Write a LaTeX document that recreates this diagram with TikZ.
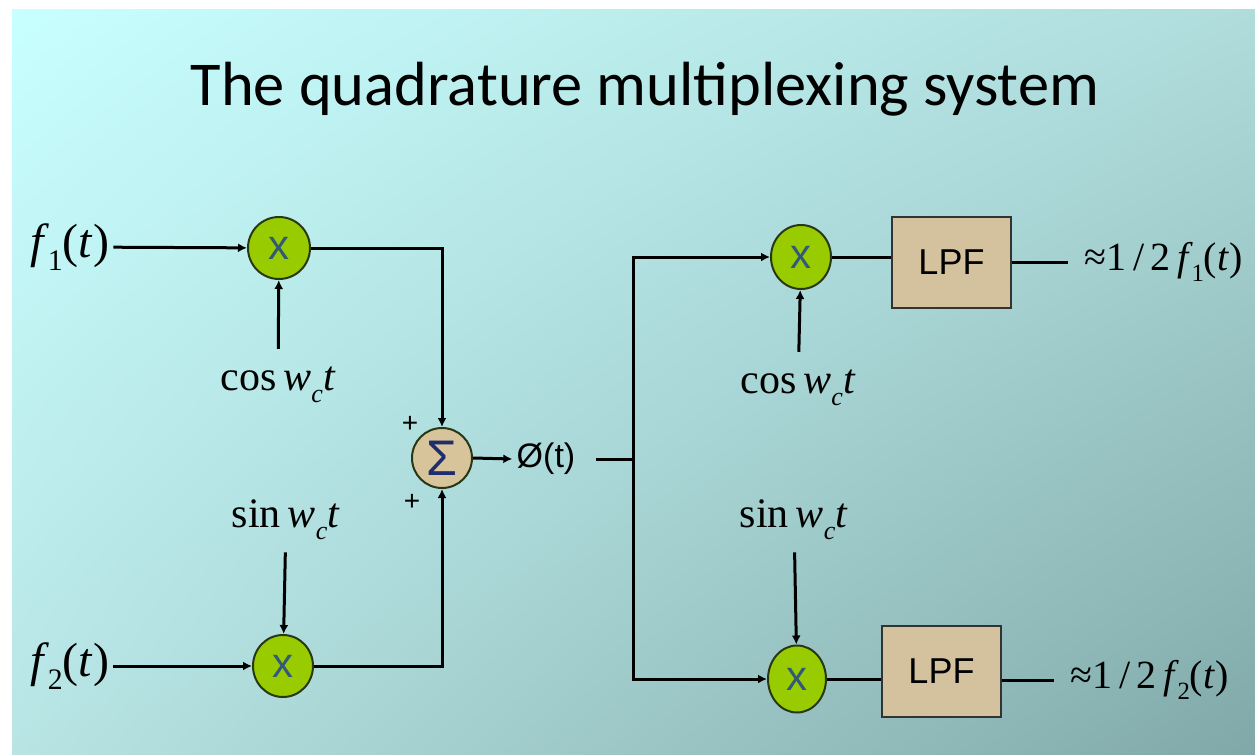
\documentclass[tikz,border=0pt]{standalone}
\usepackage{fontspec}
\setmainfont{Liberation Serif}
\newfontfamily\titlefont{Carlito}
\newfontfamily\arialf{Liberation Sans}
\usetikzlibrary{arrows.meta,shapes.geometric,shadings}
\definecolor{bgTL}{RGB}{200,255,255}
\definecolor{bgTR}{RGB}{176,220,220}
\definecolor{bgBL}{RGB}{184,228,228}
\definecolor{bgBR}{RGB}{128,168,168}
\definecolor{multgreen}{RGB}{153,204,0}
\definecolor{multedge}{RGB}{40,55,20}
\definecolor{xblue}{RGB}{50,90,120}
\definecolor{tan}{RGB}{216,196,154}
\definecolor{lpftan}{RGB}{212,194,158}
\definecolor{sigblue}{RGB}{30,45,110}
\newcommand{\fsz}[1]{\fontsize{#1}{#1}\selectfont}
\newcommand{\itl}[1]{\textit{#1}}
\newcommand{\lowsub}[1]{\raisebox{-0.28em}{\fontsize{0.62em}{0.62em}\selectfont #1}}
\begin{document}
\begin{tikzpicture}[x=0.5pt,y=-0.5pt,
  wire/.style={line width=1.5pt},
  arr/.style={line width=1.5pt,-{Latex[length=4.5pt,width=4.5pt]}},
  mult/.style={ellipse,draw=multedge,line width=1pt,fill=multgreen,inner sep=0pt,text=xblue,font=\arialf\fsz{21}},
  sumnode/.style={circle,draw=multedge,line width=1pt,fill=tan,inner sep=0pt,minimum size=30pt,text=sigblue,font=\arialf\fsz{25}},
  lpfbox/.style={rectangle,draw=black!80,line width=1pt,fill=lpftan,inner sep=0pt,minimum width=59.5pt,minimum height=45.5pt,font=\arialf\fsz{18}},
  inlab/.style={font=\fsz{24},inner sep=2pt},
  carlab/.style={font=\fsz{21},inner sep=2pt},
  outlab/.style={font=\fsz{20},inner sep=2pt},
  sgn/.style={font=\arialf\fsz{14},inner sep=0pt}
]
\useasboundingbox (0,0) rectangle (1255,755);
\fill[white] (0,0) rectangle (1255,755);
\shade[upper left=bgTL,upper right=bgTR,lower left=bgBL,lower right=bgBR] (12,9) rectangle (1255,755);

\node[font=\titlefont\fsz{31.2},anchor=base,inner sep=0pt] (title) at (645,105) {The quadrature multiplexing system};

% modulator
\node[mult,minimum width=31pt,minimum height=31pt] (m1) at (279,248) {x};
\node[mult,minimum width=30pt,minimum height=31pt] (m2) at (283,666) {x};
\node[sumnode] (sig) at (442,458) {Σ};
\node[inlab] (f1) at (70,247) {\itl{f}\kern-0.04em\lowsub{1}(\itl{t})};
\node[inlab] (f2) at (70,666) {\itl{f}\kern-0.04em\lowsub{2}(\itl{t})};
\node[carlab] (c1) at (278,385) {cos\,\itl{w}\lowsub{\itl{c}}\itl{t}};
\node[carlab] (s1) at (286,520) {sin\,\itl{w}\lowsub{\itl{c}}\itl{t}};
\node[sgn] (p1) at (410,424) {+};
\node[sgn] (p2) at (412,502) {+};
\node[font=\arialf\fsz{17},inner sep=2pt] (phi) at (546,459) {Ø(t)};

\draw[arr] (f1) -- (m1);
\draw[arr] (f2) -- (m2);
\draw[arr,shorten <=7pt] (c1) -- (m1);
\draw[arr,shorten <=4pt] (s1) -- (m2);
\draw[arr] (m1.east) -| (sig.north);
\draw[arr] (m2.east) -| (sig.south);
\draw[arr] (sig.east) -- (phi.west);

% demodulator
\coordinate (j) at (633,459);
\coordinate (jt) at (633,257);
\coordinate (jb) at (633,679);
\draw[wire,shorten <=8pt] (phi.east) -- (j);
\draw[wire] ([yshift=0.75pt]jt) -- ([yshift=-0.75pt]jb);
\node[mult,minimum width=30pt,minimum height=32pt] (m3) at (801,257) {x};
\node[mult,minimum width=29pt,minimum height=33.5pt] (m4) at (797,679) {x};
\draw[arr] (jt) -- (m3);
\draw[arr] (jb) -- (m4);
\node[carlab] (c2) at (798,388) {cos\,\itl{w}\lowsub{\itl{c}}\itl{t}};
\node[carlab] (s2) at (794,520) {sin\,\itl{w}\lowsub{\itl{c}}\itl{t}};
\draw[arr,shorten <=7pt] (c2) -- (m3);
\draw[arr,shorten <=4pt] (s2) -- (m4);

\node[lpfbox] (l1) at (951.5,262.5) {LPF};
\node[lpfbox] (l2) at (941.5,671.5) {LPF};
\draw[wire] (m3.east) -- (m3.east -| l1.west);
\draw[wire] (m4.east) -- (m4.east -| l2.west);
\node[outlab,anchor=west] (o1) at (1080,262) {≈1\,/\,2\,\itl{f}\kern-0.04em\lowsub{1}(\itl{t})};
\node[outlab,anchor=west] (o2) at (1066,680) {≈1\,/\,2\,\itl{f}\kern-0.04em\lowsub{2}(\itl{t})};
\draw[wire,shorten >=6pt] (l1.east |- o1.west) -- (o1.west);
\draw[wire,shorten >=6pt] (l2.east |- o2.west) -- (o2.west);
\end{tikzpicture}
\end{document}
